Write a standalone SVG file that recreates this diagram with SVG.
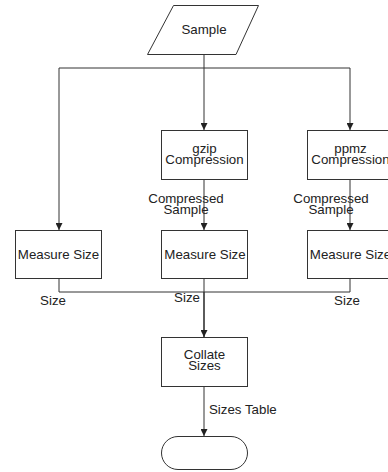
<svg xmlns="http://www.w3.org/2000/svg" width="388" height="472" viewBox="0 0 388 472">
<defs>
<style>
.n{fill:#fff;stroke:#333;stroke-width:1}
.t{font-family:"Liberation Sans",Arial,sans-serif;font-size:13.3px;fill:#222;text-anchor:middle}
.l{font-family:"Liberation Sans",Arial,sans-serif;font-size:13.3px;fill:#222}
.c{fill:none;stroke:#333;stroke-width:1}
</style>
<marker id="a" viewBox="0 0 8 8" refX="8" refY="4" markerWidth="7" markerHeight="7" markerUnits="userSpaceOnUse" orient="auto">
<path d="M0,0 L8,4 L0,8 z" fill="#222"/>
</marker>
</defs>
<rect width="388" height="472" fill="#fff"/>
<g id="connectors">
<path class="c" d="M204,54 V68"/>
<path class="c" d="M59,68 H350"/>
<path class="c" d="M204,68 V130" marker-end="url(#a)"/>
<path class="c" d="M350,68 V130" marker-end="url(#a)"/>
<path class="c" d="M59,68 V230" marker-end="url(#a)"/>
<path class="c" d="M204,180 V230" marker-end="url(#a)"/>
<path class="c" d="M350,180 V230" marker-end="url(#a)"/>
<path class="c" d="M59,279 V292 H350 V279"/>
<path class="c" d="M204,279 V292"/>
<path class="c" style="stroke-width:1.6" d="M204,292 V337" marker-end="url(#a)"/>
<path class="c" d="M204,387 V436" marker-end="url(#a)"/>
<text class="t" x="186" y="203">Compressed</text>
<text class="t" x="186" y="214">Sample</text>
<text class="t" x="331" y="203">Compressed</text>
<text class="t" x="331" y="214">Sample</text>
<text class="t" x="53" y="305">Size</text>
<text class="t" x="187" y="302">Size</text>
<text class="t" x="347" y="305">Size</text>
<text class="l" x="209" y="414">Sizes Table</text>
</g>
<g id="sample">
<polygon class="n" points="173.5,5.5 258.5,5.5 236,54.5 147.5,54.5"/>
<text class="t" x="204" y="34">Sample</text>
</g>
<g id="gzip">
<rect class="n" x="161.5" y="130.5" width="86" height="49"/>
<text class="t" x="204.5" y="153">gzip</text>
<text class="t" x="204.5" y="164">Compression</text>
</g>
<g id="ppmz">
<rect class="n" x="307.5" y="130.5" width="86" height="49"/>
<text class="t" x="350.5" y="153">ppmz</text>
<text class="t" x="350.5" y="164">Compression</text>
</g>
<g id="measure1">
<rect class="n" x="15.5" y="230.5" width="86" height="48"/>
<text class="t" x="58.5" y="259">Measure Size</text>
</g>
<g id="measure2">
<rect class="n" x="161.5" y="230.5" width="86" height="48"/>
<text class="t" x="205" y="259">Measure Size</text>
</g>
<g id="measure3">
<rect class="n" x="307.5" y="230.5" width="86" height="48"/>
<text class="t" x="350.5" y="259">Measure Size</text>
</g>
<g id="collate">
<rect class="n" x="161.5" y="337.5" width="86" height="49"/>
<text class="t" x="204.5" y="359">Collate</text>
<text class="t" x="204.5" y="370">Sizes</text>
</g>
<g id="end">
<rect class="n" x="161.5" y="436.5" width="86" height="33" rx="16.5" ry="16.5"/>
</g>
</svg>
